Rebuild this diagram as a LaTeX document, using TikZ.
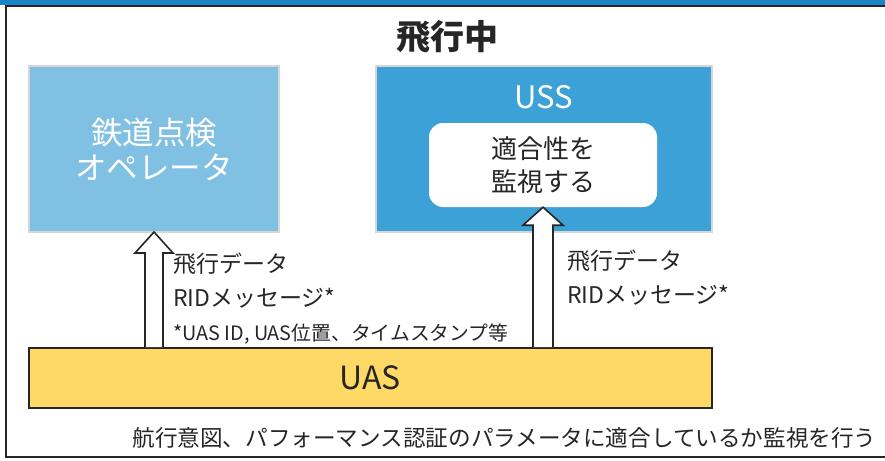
\documentclass[tikz,border=0pt]{standalone}
\usepackage{fontspec}
\setmainfont{Noto Sans CJK JP}
\usetikzlibrary{calc}
\definecolor{topbar}{HTML}{1A84C7}
\definecolor{opblue}{HTML}{80C0E2}
\definecolor{ussblue}{HTML}{3CA1D6}
\definecolor{edgegray}{HTML}{D6D6D6}
\definecolor{uasyellow}{HTML}{FFD966}
\definecolor{ink}{HTML}{262626}
\newcommand\fs[2]{\fontsize{#1}{#2}\selectfont}
\begin{document}
\begin{tikzpicture}[x=1pt,y=-1pt,
  panel/.style={draw=edgegray, line width=2pt, minimum width=250pt, minimum height=166pt, inner sep=0pt},
  label/.style={text=ink, inner sep=0pt, anchor=base west},
  barrow/.style={draw=ink, fill=white, line width=1.6pt, line join=miter}]
\useasboundingbox (0,0) rectangle (885,460);
% frame
\fill[topbar] (0,0) rectangle (885,5.5);
\draw[ink, line width=2pt] (885,6.5) -- (6,6.5) -- (6,457) -- (885,457);
% title
\node[text=ink, font=\fs{34}{40}\bfseries] (title) at (447,37) {飛行中};
% boxes
\node[panel, fill=opblue, text=white, align=center, font=\fs{31.5}{35}] (op) at (154,149) {鉄道点検\\オペレータ};
\node[panel, fill=ussblue, minimum width=336pt] (uss) at (544,149) {};
\node[text=white, font=\fs{31}{36}, inner sep=0pt] (usslbl) at (544,97) {USS};
\node[fill=white, rounded corners=14pt, minimum width=228pt, minimum height=84pt, align=center,
      text=ink, font=\fs{26}{33}] (mon) at (543,165) {適合性を\\監視する};
\node[draw=ink, line width=1.6pt, fill=uasyellow, minimum width=683pt, minimum height=60pt,
      text=ink, font=\fs{32}{36}] (uas) at (370.5,378) {UAS};
% block arrows
\draw[barrow] let \p1=(uas.north), \p2=(op.south) in
  (\x2-9pt,\y1) -- (\x2-9pt,\y2-20pt) -- (\x2-19pt,\y2-20pt) -- (\x2,\y2+1pt)
  -- (\x2+19pt,\y2-20pt) -- (\x2+9pt,\y2-20pt) -- (\x2+9pt,\y1);
\draw[barrow] let \p1=(uas.north), \p2=(mon.south) in
  (\x2-10pt,\y1) -- (\x2-10pt,\y2-18pt) -- (\x2-20pt,\y2-18pt) -- (\x2,\y2)
  -- (\x2+20pt,\y2-18pt) -- (\x2+10pt,\y2-18pt) -- (\x2+10pt,\y1);
% labels
\node[label, font=\fs{23}{30}] (l1a) at (173,272) {飛行データ};
\node[label, font=\fs{23}{30}] (l1b) at (173,306) {RIDメッセージ*};
\node[label, font=\fs{19.8}{24}] (fn) at (173,340) {*UAS ID, UAS位置、タイムスタンプ等};
\node[label, font=\fs{23}{30}] (l2a) at (567,269) {飛行データ};
\node[label, font=\fs{23}{30}] (l2b) at (567,303) {RIDメッセージ*};
% bottom text
\node[text=ink, inner sep=0pt, font=\fs{22.6}{26}] (note) at (504.5,438) {航行意図、パフォーマンス認証のパラメータに適合しているか監視を行う};
\end{tikzpicture}
\end{document}
